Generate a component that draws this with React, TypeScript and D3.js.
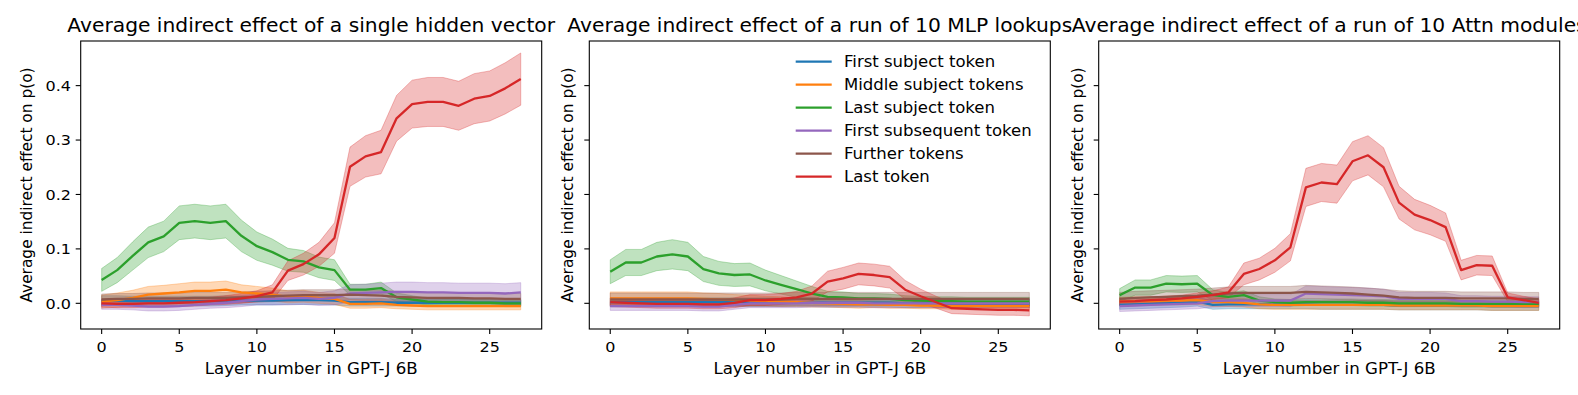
import React from "react";
import * as d3 from "d3";

const layers = d3.range(28);
const xTicks = [0, 5, 10, 15, 20, 25];
const yTicks = [0.0, 0.1, 0.2, 0.3, 0.4];
const yTickLabels = ["0.0", "0.1", "0.2", "0.3", "0.4"];
const titles = [
  "Average indirect effect of a single hidden vector",
  "Average indirect effect of a run of 10 MLP lookups",
  "Average indirect effect of a run of 10 Attn modules",
];
const xLabel = "Layer number in GPT-J 6B";
const yLabel = "Average indirect effect on p(o)";
const seriesNames = [
  "First subject token",
  "Middle subject tokens",
  "Last subject token",
  "First subsequent token",
  "Further tokens",
  "Last token",
];
const seriesColors = ["#1f77b4", "#ff7f0e", "#2ca02c", "#9467bd", "#8c564b", "#d62728"];

// single hidden vector
const hidFirst = [0.005,0.005,0.004,0.004,0.004,0.004,0.004,0.004,0.005,0.005,0.005,0.005,0.006,0.006,0.006,0.005,0.002,0.002,0.002,0.001,0.001,0.001,0.001,0.001,0.001,0.001,0.001,0.001];
const hidFirstErr = [0.009,0.009,0.009,0.009,0.009,0.009,0.009,0.009,0.009,0.008,0.008,0.008,0.008,0.008,0.008,0.008,0.007,0.007,0.007,0.006,0.006,0.006,0.006,0.006,0.006,0.006,0.006,0.006];
const hidMid = [0.003,0.006,0.010,0.016,0.018,0.020,0.023,0.023,0.025,0.020,0.018,0.016,0.012,0.013,0.010,0.008,-0.001,-0.001,0.000,-0.003,-0.004,-0.005,-0.005,-0.005,-0.005,-0.005,-0.005,-0.005];
const hidMidErr = [0.012,0.013,0.014,0.015,0.015,0.016,0.016,0.016,0.016,0.014,0.013,0.012,0.011,0.011,0.010,0.010,0.008,0.008,0.008,0.007,0.007,0.007,0.007,0.007,0.007,0.007,0.007,0.007];
const hidSubj = [0.043,0.061,0.087,0.112,0.123,0.148,0.151,0.148,0.151,0.124,0.105,0.094,0.080,0.077,0.066,0.061,0.025,0.025,0.028,0.011,0.007,0.003,0.002,0.002,0.001,0.001,0.000,0.000];
const hidSubjErr = [0.021,0.023,0.026,0.028,0.028,0.031,0.031,0.031,0.031,0.029,0.026,0.024,0.021,0.020,0.019,0.019,0.010,0.010,0.011,0.008,0.007,0.006,0.006,0.006,0.006,0.006,0.006,0.006];
const hidNext = [-0.003,-0.003,-0.004,-0.006,-0.006,-0.005,-0.003,-0.001,0.001,0.004,0.007,0.008,0.009,0.010,0.008,0.010,0.018,0.019,0.020,0.021,0.021,0.020,0.020,0.019,0.019,0.019,0.018,0.020];
const hidNextErr = [0.008,0.008,0.008,0.008,0.008,0.008,0.008,0.008,0.009,0.010,0.010,0.011,0.012,0.012,0.012,0.013,0.016,0.016,0.017,0.018,0.018,0.018,0.018,0.018,0.018,0.018,0.018,0.018];
const hidFurther = [0.007,0.008,0.008,0.009,0.009,0.009,0.010,0.010,0.010,0.011,0.012,0.013,0.014,0.015,0.015,0.015,0.016,0.015,0.014,0.012,0.011,0.010,0.010,0.010,0.009,0.009,0.008,0.008];
const hidFurtherErr = [0.010,0.010,0.010,0.010,0.010,0.010,0.010,0.010,0.010,0.010,0.010,0.010,0.010,0.010,0.010,0.010,0.010,0.010,0.010,0.010,0.010,0.010,0.010,0.010,0.010,0.010,0.010,0.010];
const hidLast = [0.000,-0.001,-0.001,0.000,0.000,0.001,0.002,0.004,0.006,0.009,0.013,0.020,0.060,0.072,0.090,0.120,0.251,0.270,0.278,0.340,0.366,0.370,0.370,0.363,0.376,0.381,0.395,0.412];
const hidLastErr = [0.007,0.007,0.007,0.007,0.007,0.007,0.007,0.007,0.008,0.009,0.010,0.014,0.018,0.020,0.022,0.028,0.036,0.038,0.040,0.042,0.044,0.045,0.045,0.045,0.046,0.046,0.047,0.048];

// run of 10 MLP lookups
const mlpFirst = [0.002,0.002,0.002,0.002,0.002,0.002,0.002,0.002,0.002,0.002,0.002,0.002,0.002,0.002,0.001,0.001,0.001,0.001,0.001,0.000,0.000,0.000,0.000,0.000,0.000,0.000,0.000,0.000];
const mlpFirstErr = [0.008,0.008,0.008,0.008,0.008,0.008,0.008,0.008,0.008,0.008,0.008,0.008,0.008,0.008,0.008,0.008,0.008,0.008,0.008,0.008,0.008,0.008,0.008,0.008,0.008,0.008,0.008,0.008];
const mlpMid = [0.009,0.009,0.009,0.009,0.009,0.009,0.008,0.007,0.006,0.005,0.004,0.003,0.002,0.001,0.000,-0.001,-0.002,-0.002,-0.003,-0.003,-0.004,-0.004,-0.005,-0.005,-0.005,-0.005,-0.005,-0.005];
const mlpMidErr = [0.012,0.012,0.012,0.012,0.012,0.012,0.011,0.011,0.010,0.010,0.009,0.009,0.008,0.008,0.007,0.007,0.007,0.006,0.006,0.006,0.006,0.006,0.006,0.006,0.006,0.006,0.006,0.006];
const mlpSubj = [0.058,0.075,0.075,0.086,0.090,0.086,0.063,0.055,0.052,0.053,0.042,0.034,0.026,0.018,0.012,0.011,0.009,0.009,0.008,0.006,0.005,0.004,0.004,0.003,0.003,0.003,0.003,0.003];
const mlpSubjErr = [0.022,0.024,0.024,0.026,0.027,0.026,0.023,0.022,0.021,0.021,0.019,0.017,0.015,0.013,0.010,0.010,0.009,0.009,0.009,0.008,0.008,0.008,0.008,0.008,0.008,0.008,0.008,0.008];
const mlpNext = [-0.005,-0.005,-0.005,-0.005,-0.005,-0.005,-0.006,-0.006,-0.003,0.000,0.000,0.000,0.000,0.001,0.001,0.001,0.001,0.000,0.000,0.000,0.000,0.000,0.000,0.000,0.000,0.000,0.000,0.000];
const mlpNextErr = [0.008,0.008,0.008,0.008,0.008,0.008,0.008,0.008,0.008,0.008,0.008,0.008,0.008,0.008,0.008,0.008,0.008,0.008,0.008,0.008,0.008,0.008,0.008,0.008,0.008,0.008,0.008,0.008];
const mlpFurther = [0.007,0.007,0.007,0.007,0.007,0.007,0.007,0.007,0.007,0.007,0.007,0.007,0.008,0.008,0.008,0.008,0.008,0.008,0.008,0.008,0.008,0.008,0.008,0.008,0.008,0.008,0.008,0.008];
const mlpFurtherErr = [0.012,0.012,0.012,0.012,0.012,0.012,0.012,0.012,0.012,0.012,0.012,0.012,0.012,0.012,0.012,0.012,0.012,0.012,0.012,0.012,0.012,0.012,0.012,0.012,0.012,0.012,0.012,0.012];
const mlpLast = [0.002,0.001,0.000,-0.001,-0.001,-0.001,-0.002,-0.002,0.001,0.006,0.006,0.008,0.011,0.018,0.040,0.046,0.054,0.052,0.048,0.025,0.013,0.002,-0.009,-0.010,-0.011,-0.012,-0.012,-0.013];
const mlpLastErr = [0.008,0.008,0.008,0.008,0.008,0.008,0.008,0.008,0.009,0.010,0.010,0.010,0.011,0.014,0.019,0.020,0.020,0.020,0.020,0.017,0.013,0.011,0.010,0.010,0.010,0.010,0.010,0.010];

// run of 10 Attn modules
const attnFirst = [-0.003,-0.002,-0.001,0.000,0.001,0.003,-0.003,-0.002,-0.002,-0.002,-0.002,-0.002,-0.002,-0.003,-0.003,-0.003,-0.003,-0.003,-0.004,-0.004,-0.004,-0.004,-0.004,-0.004,-0.005,-0.005,-0.005,-0.005];
const attnFirstErr = [0.008,0.008,0.008,0.008,0.008,0.008,0.008,0.008,0.008,0.008,0.008,0.008,0.008,0.008,0.008,0.008,0.008,0.008,0.008,0.008,0.008,0.008,0.008,0.008,0.008,0.008,0.008,0.008];
const attnMid = [0.003,0.004,0.004,0.005,0.005,0.006,0.002,0.002,0.001,-0.002,-0.003,-0.003,-0.003,-0.003,-0.003,-0.003,-0.003,-0.003,-0.004,-0.004,-0.004,-0.004,-0.004,-0.004,-0.005,-0.005,-0.005,-0.005];
const attnMidErr = [0.008,0.008,0.008,0.008,0.008,0.008,0.008,0.008,0.008,0.008,0.008,0.008,0.008,0.008,0.008,0.008,0.008,0.008,0.008,0.008,0.008,0.008,0.008,0.008,0.008,0.008,0.008,0.008];
const attnSubj = [0.015,0.029,0.029,0.036,0.035,0.036,0.015,0.012,0.015,0.005,0.002,0.001,0.002,0.002,0.002,0.002,0.001,0.001,0.000,0.000,0.000,0.000,-0.001,-0.001,-0.001,-0.001,-0.001,-0.001];
const attnSubjErr = [0.012,0.014,0.014,0.015,0.015,0.015,0.010,0.008,0.008,0.007,0.006,0.006,0.006,0.006,0.006,0.006,0.006,0.006,0.006,0.006,0.006,0.006,0.006,0.006,0.006,0.006,0.006,0.006];
const attnNext = [-0.005,-0.004,-0.003,-0.002,-0.001,0.000,0.004,0.005,0.005,0.005,0.005,0.005,0.018,0.017,0.016,0.015,0.014,0.013,0.008,0.008,0.008,0.008,0.004,0.004,0.003,0.003,0.002,0.002];
const attnNextErr = [0.010,0.010,0.010,0.010,0.010,0.010,0.011,0.011,0.011,0.011,0.011,0.011,0.014,0.014,0.014,0.014,0.014,0.013,0.012,0.012,0.012,0.011,0.010,0.010,0.010,0.010,0.010,0.010];
const attnFurther = [0.008,0.010,0.011,0.012,0.013,0.014,0.016,0.018,0.019,0.019,0.019,0.019,0.021,0.020,0.019,0.018,0.016,0.014,0.011,0.010,0.010,0.010,0.009,0.009,0.009,0.009,0.008,0.008];
const attnFurtherErr = [0.012,0.012,0.012,0.012,0.012,0.012,0.012,0.012,0.012,0.012,0.012,0.012,0.012,0.012,0.012,0.012,0.012,0.012,0.012,0.012,0.012,0.012,0.012,0.012,0.012,0.012,0.012,0.012];
const attnLast = [0.003,0.004,0.006,0.007,0.009,0.012,0.015,0.020,0.054,0.063,0.079,0.103,0.213,0.222,0.219,0.261,0.272,0.250,0.185,0.163,0.153,0.140,0.061,0.070,0.069,0.011,0.006,0.001];
const attnLastErr = [0.006,0.006,0.006,0.006,0.006,0.007,0.008,0.010,0.020,0.020,0.022,0.025,0.035,0.035,0.035,0.036,0.036,0.036,0.030,0.028,0.027,0.026,0.018,0.018,0.018,0.008,0.007,0.007];

const panels = [
  { title: titles[0], means: [hidFirst, hidMid, hidSubj, hidNext, hidFurther, hidLast], errs: [hidFirstErr, hidMidErr, hidSubjErr, hidNextErr, hidFurtherErr, hidLastErr] },
  { title: titles[1], means: [mlpFirst, mlpMid, mlpSubj, mlpNext, mlpFurther, mlpLast], errs: [mlpFirstErr, mlpMidErr, mlpSubjErr, mlpNextErr, mlpFurtherErr, mlpLastErr] },
  { title: titles[2], means: [attnFirst, attnMid, attnSubj, attnNext, attnFurther, attnLast], errs: [attnFirstErr, attnMidErr, attnSubjErr, attnNextErr, attnFurtherErr, attnLastErr] },
];

const W = 1578, H = 395;
const boxLefts = [80.7, 589.3, 1098.7];
const boxW = 461;
const boxTop = 41, boxBottom = 329;
const SX = 1.08; // the reference text is a bit wider than tall
const FONT = "'DejaVu Sans', sans-serif";

const Txt = ({ x, y, size, anchor = "middle", rotate = false, children }: any) => (
  <text
    transform={`translate(${x},${y}) scale(${SX},1)${rotate ? " rotate(-90)" : ""}`}
    fontSize={size}
    textAnchor={anchor}
    fontFamily={FONT}
    fill="#000"
  >
    {children}
  </text>
);

const Panel = ({ idx }: { idx: number }) => {
  const p = panels[idx];
  const L = boxLefts[idx];
  const x = d3.scaleLinear().domain([-1.35, 28.35]).range([L, L + boxW]);
  const y = d3.scaleLinear().domain([-0.0472, 0.482]).range([boxBottom, boxTop]);
  const line = d3.line<number>().x((_, i) => x(layers[i])).y((d) => y(d));
  const clipId = `clip${idx}`;
  return (
    <g>
      <defs>
        <clipPath id={clipId}>
          <rect x={L} y={boxTop} width={boxW} height={boxBottom - boxTop} />
        </clipPath>
      </defs>
      <g clipPath={`url(#${clipId})`}>
        {p.means.map((m, s) => {
          const e = p.errs[s];
          const area = d3
            .area<number>()
            .x((_, i) => x(layers[i]))
            .y0((d, i) => y(d - e[i]))
            .y1((d, i) => y(d + e[i]));
          return (
            <path key={"a" + s} d={area(m) || ""} fill={seriesColors[s]} fillOpacity={0.3}
              stroke={seriesColors[s]} strokeOpacity={0.3} strokeWidth={1} />
          );
        })}
        {p.means.map((m, s) => (
          <path key={"l" + s} d={line(m) || ""} fill="none" stroke={seriesColors[s]}
            strokeWidth={2.3} strokeLinejoin="round" />
        ))}
      </g>
      <rect x={L} y={boxTop} width={boxW} height={boxBottom - boxTop} fill="none" stroke="#000" strokeWidth={1.1} />
      {xTicks.map((t) => (
        <g key={"x" + t}>
          <line x1={x(t)} x2={x(t)} y1={boxBottom} y2={boxBottom + 5} stroke="#000" strokeWidth={1.1} />
          <Txt x={x(t)} y={351.5} size={14.8}>{String(t)}</Txt>
        </g>
      ))}
      {yTicks.map((t, i) => (
        <g key={"y" + t}>
          <line x1={L - 5} x2={L} y1={y(t)} y2={y(t)} stroke="#000" strokeWidth={1.1} />
          {idx === 0 && (
            <Txt x={L - 9.7} y={y(t) + 5.3} size={14.8} anchor="end">{yTickLabels[i]}</Txt>
          )}
        </g>
      ))}
      <Txt x={L + boxW / 2} y={374} size={15.4}>{xLabel}</Txt>
      <Txt x={idx === 0 ? 31.5 : L - 16} y={(boxTop + boxBottom) / 2} size={15.4} rotate>{yLabel}</Txt>
      <Txt x={L + boxW / 2} y={31.5} size={18.75}>{p.title}</Txt>
      {idx === 1 &&
        seriesNames.map((name, s) => {
          const ry = 61.7 + s * 23;
          return (
            <g key={"lg" + s}>
              <line x1={L + 206.4} x2={L + 242.4} y1={ry} y2={ry} stroke={seriesColors[s]} strokeWidth={2.3} />
              <Txt x={L + 254.7} y={ry + 5.5} size={15.3} anchor="start">{name}</Txt>
            </g>
          );
        })}
    </g>
  );
};

export default function App() {
  return (
    <svg
      width={W}
      height={H}
      style={{ position: "absolute", left: 0, top: 0, background: "#fff", display: "block", overflow: "hidden" }}
    >
      <rect x={0} y={0} width={W} height={H} fill="#fff" />
      {panels.map((_, i) => (
        <Panel key={i} idx={i} />
      ))}
    </svg>
  );
}
